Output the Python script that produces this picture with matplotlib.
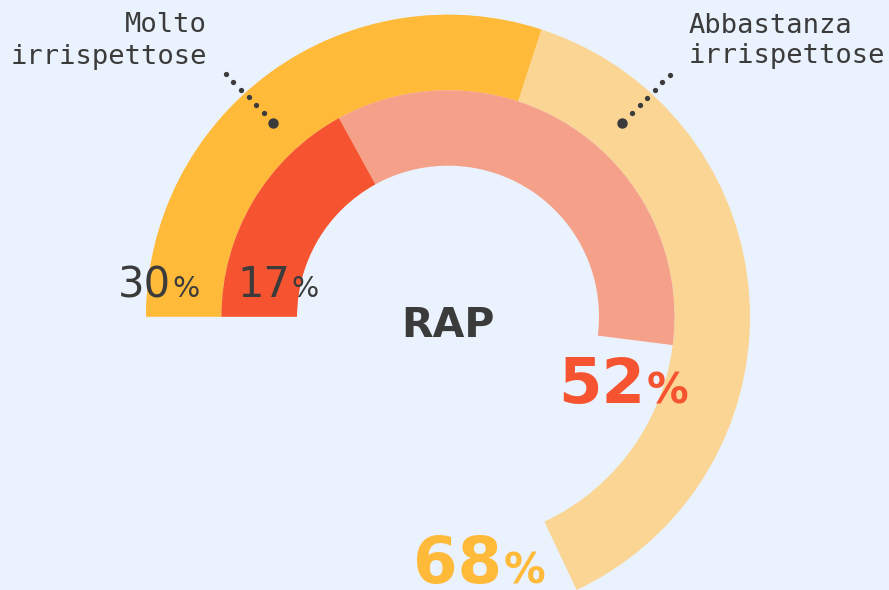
import matplotlib
matplotlib.use("Agg")
import matplotlib.pyplot as plt
import numpy as np

# ---- data ----
category = "RAP"
labels = ["Molto\nirrispettose", "Abbastanza\nirrispettose"]
outer_values = [30, 68]   # % "Molto" (dark), % "Abbastanza" (light)  - outer ring
inner_values = [17, 52]   # inner ring
outer_colors = ["#FFBA3A", "#FAD594"]
inner_colors = ["#F65430", "#F5A189"]

BG = "#EAF2FD"
GRAY = "#3B3B3B"

W, H = 889, 590
fig = plt.figure(figsize=(W / 100, H / 100), dpi=100, facecolor=BG)
ax = fig.add_axes([0, 0, 1, 1])
ax.set_facecolor(BG)

cx, cy = 448, H - 316.7
r_out, r_mid, width = 302, 226.5, 75.5

# larger value first, smaller drawn on top, all starting at 9 o'clock clockwise
for vals, cols, r in [(outer_values, outer_colors, r_out), (inner_values, inner_colors, r_mid)]:
    order = np.argsort(vals)[::-1]
    for i in order:
        ax.pie([vals[i] / 100.0], radius=r, center=(cx, cy), startangle=180,
               counterclock=False, normalize=False, colors=[cols[i]],
               wedgeprops=dict(width=width, linewidth=0, antialiased=True))

ax.set_xlim(0, W)
ax.set_ylim(0, H)
ax.set_aspect("equal")
ax.axis("off")

def Y(y):
    return H - y

# centre label
ax.text(cx, Y(336.7), category, ha="center", va="baseline", fontsize=29.5,
        fontweight="bold", color=GRAY, family="DejaVu Sans")

# series labels
mono = "DejaVu Sans Mono"
l1, l2 = labels[0].split("\n"), labels[1].split("\n")
ax.text(207, Y(32.3), l1[0], ha="right", va="baseline", fontsize=19.5, color=GRAY, family=mono)
ax.text(207, Y(64.3), l1[1], ha="right", va="baseline", fontsize=19.5, color=GRAY, family=mono)
ax.text(689, Y(33.3), l2[0], ha="left", va="baseline", fontsize=19.5, color=GRAY, family=mono)
ax.text(689, Y(63.3), l2[1], ha="left", va="baseline", fontsize=19.5, color=GRAY, family=mono)

# dotted leaders
for (x0, y0), (x1, y1), (xb, yb) in [((225.7, 74.3), (263.7, 112.7), (273.3, 122.7)),
                                      ((670.0, 74.7), (632.3, 112.7), (621.7, 122.7))]:
    xs = np.linspace(x0, x1, 6)
    ys = np.linspace(y0, y1, 6)
    ax.plot(xs, [Y(v) for v in ys], linestyle="none", marker="o", markersize=3.8,
            color=GRAY, markeredgewidth=0)
    ax.plot([xb], [Y(yb)], linestyle="none", marker="o", markersize=7.5,
            color=GRAY, markeredgewidth=0)

# value labels: number, then a smaller "%" right after it
renderer = fig.canvas.get_renderer()

def pct(value, x_num, base, size, psize, color, weight, gap=1.5):
    t = ax.text(x_num, Y(base), f"{value}", ha="left", va="baseline", fontsize=size,
                color=color, fontweight=weight, family="DejaVu Sans")
    bb = t.get_window_extent(renderer).transformed(ax.transData.inverted())
    ax.text(bb.x1 + gap, Y(base), "%", ha="left", va="baseline", fontsize=psize,
            color=color, fontweight=weight, family="DejaVu Sans")

pct(outer_values[0], 118, 297, 30, 20.5, GRAY, "normal")
pct(inner_values[0], 237, 297, 30, 20.5, GRAY, "normal")
pct(inner_values[1], 558, 403.3, 45, 30, inner_colors[0], "bold")
pct(outer_values[1], 413, 583, 46, 30, outer_colors[0], "bold")

fig.savefig("out.png", dpi=100, facecolor=BG)
